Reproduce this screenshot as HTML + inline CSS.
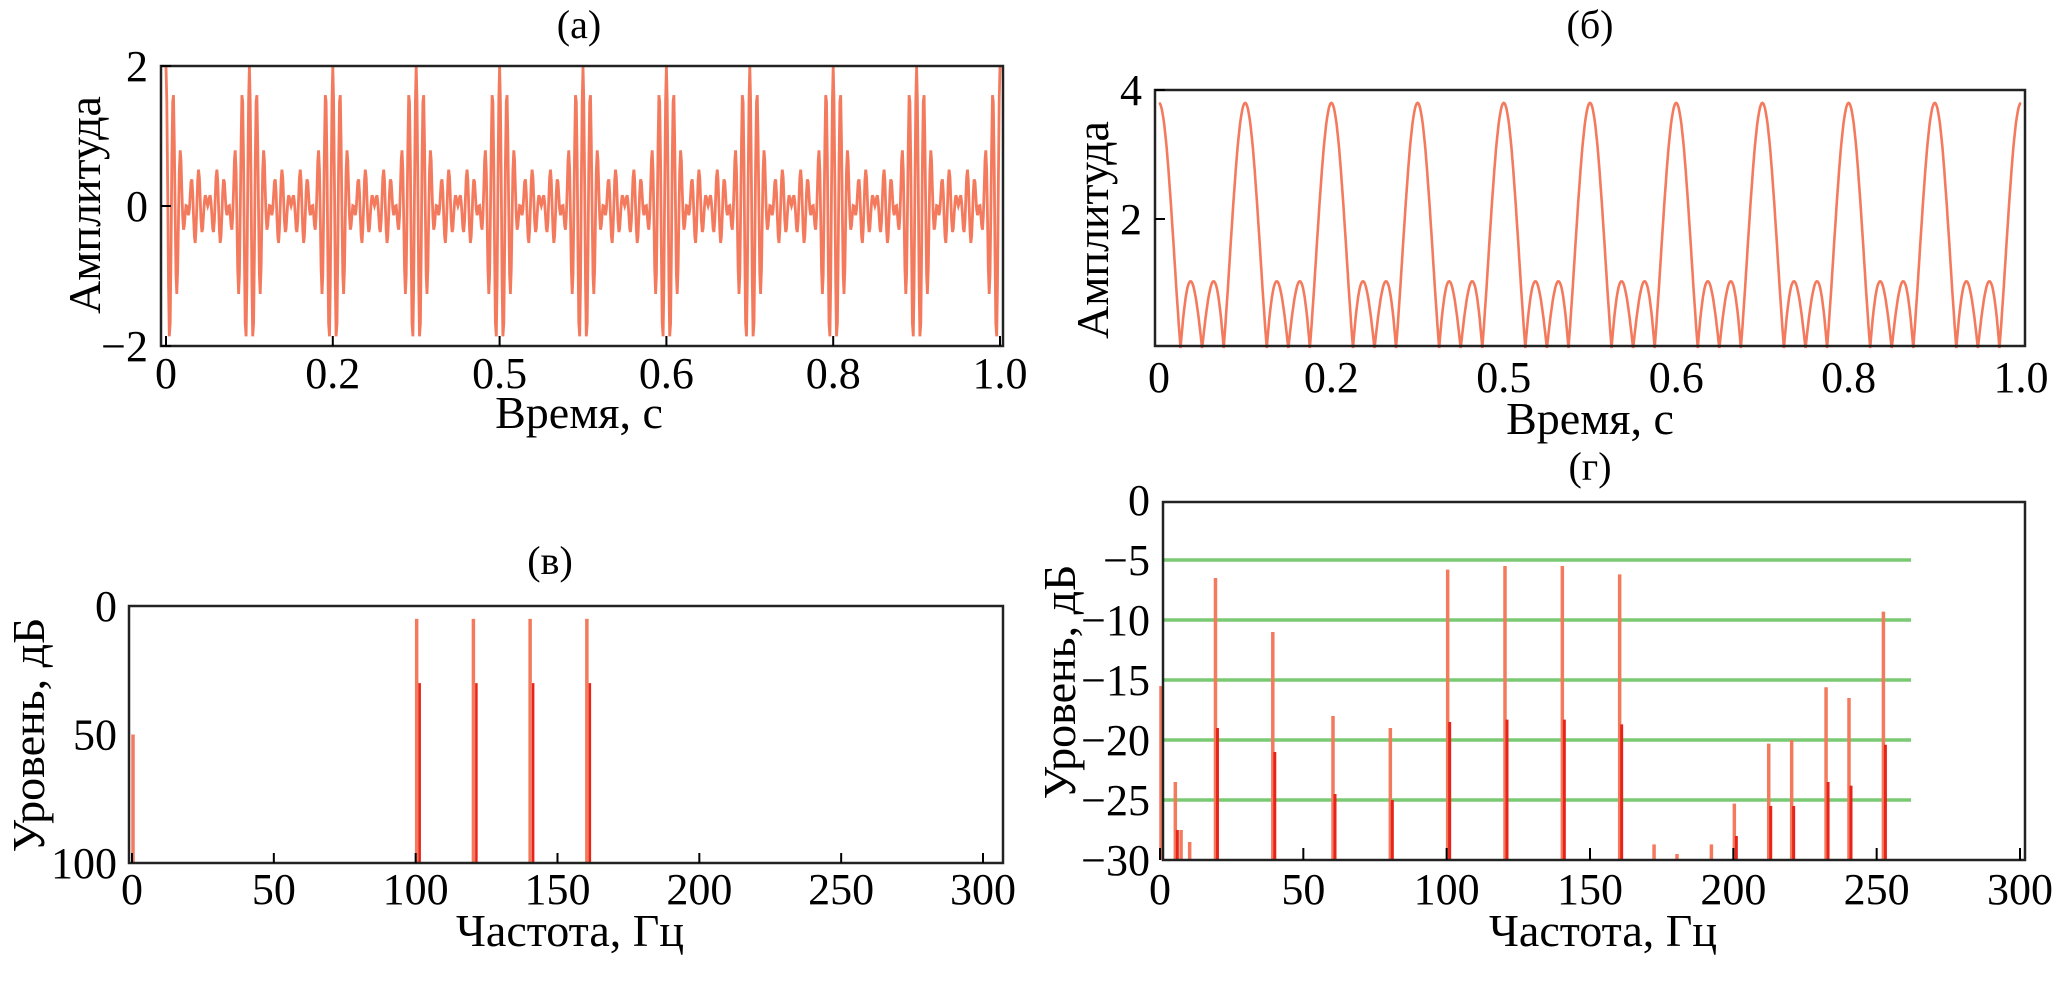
<!DOCTYPE html>
<html><head><meta charset="utf-8"><style>
html,body{margin:0;padding:0;background:#fff;}
svg{display:block;font-family:"Liberation Serif",serif;}
</style></head><body>
<svg id="s" width="2067" height="1006" viewBox="0 0 2067 1006" xmlns="http://www.w3.org/2000/svg"></svg>
<script>
// ---- data ----
const toneFreqs = [100, 110, 120, 130];
const toneAmpsA = [0.5, 0.5, 0.5, 0.5];
const toneAmpsB = [0.95, 0.95, 0.95, 0.95];
const timeTicks = [0, 0.2, 0.4, 0.6, 0.8, 1.0];
const timeTickLabels = ["0", "0.2", "0.5", "0.6", "0.8", "1.0"];
const ampTicksA = [2, 0, -2];
const ampTicksB = [4, 2];
const specFreqsV = [0, 100, 120, 140, 160];
const specLevelsV = [50, 5, 5, 5, 5];
const specSecondV = [100, 30, 30, 30, 30];
const levelTicksV = [0, 50, 100];
const freqTicks = [0, 50, 100, 150, 200, 250, 300];
const specFreqsG = [0, 5, 7, 10, 19, 39, 60, 80, 100, 120, 140, 160, 172, 180, 192, 200, 212, 220, 232, 240, 252];
const specLevelsG = [-15.5, -23.5, -27.5, -28.5, -6.5, -11, -18, -19, -5.8, -5.5, -5.5, -6.2, -28.7, -29.5, -28.7, -25.3, -20.3, -20, -15.6, -16.5, -9.3];
const specSecondG = [-30, -27.5, -30, -30, -19, -21, -24.5, -25, -18.5, -18.3, -18.3, -18.7, -30, -30, -30, -28, -25.5, -25.5, -23.5, -23.8, -20.4];
const gridLevelsG = [-5, -10, -15, -20, -25];
const levelTicksG = [0, -5, -10, -15, -20, -25, -30];

const svg = document.getElementById('s');
const NS = 'http://www.w3.org/2000/svg';
function mk(tag, attrs, parent) {
  const e = document.createElementNS(NS, tag);
  for (const k in attrs) e.setAttribute(k, attrs[k]);
  (parent || svg).appendChild(e);
  return e;
}
function txt(x, y, s, size, anchor, rot) {
  const t = mk('text', {x: x, y: y, 'font-size': size, 'text-anchor': anchor || 'middle', fill: '#000'});
  if (rot) t.setAttribute('transform', 'rotate(-90 ' + x + ' ' + y + ')');
  t.textContent = s;
  return t;
}
function lin(d0, d1, r0, r1) { return v => r0 + (v - d0) * (r1 - r0) / (d1 - d0); }
const LINE = '#f47a5e', DARK = '#e8231a';
const TF = 44, AF = 46;

function frame(x0, y0, x1, y1, name) {
  const r = mk('rect', {x: x0, y: y0, width: x1 - x0, height: y1 - y0, fill: 'none', stroke: '#222', 'stroke-width': 2.5});
  
  
}

// ---- Panel (a) ----
{
  const X0 = 161, X1 = 1003, Y0 = 66, Y1 = 346;
  const xs = lin(0, 1, 166, 1000), ys = lin(-2, 2, Y1, Y0);
  let t = txt(579, 38, '(a)', 40);  
  let pts = [];
  for (let i = 0; i <= 1000; i++) {
    const tt = i / 1000; let v = 0;
    for (let k = 0; k < toneFreqs.length; k++) v += toneAmpsA[k] * Math.cos(2 * Math.PI * toneFreqs[k] * tt);
    pts.push(xs(tt).toFixed(1) + ',' + ys(Math.max(-2, Math.min(2, v))).toFixed(1));
  }
  const p = mk('polyline', {points: pts.join(' '), fill: 'none', stroke: LINE, 'stroke-width': 2.8});
   
  frame(X0, Y0, X1, Y1, 'plot-frame-a');
  ampTicksA.forEach(v => { const l = txt(148, ys(v) + 15, v < 0 ? '\u22122' : String(v), TF, 'end');   mk('line', {x1: X0, x2: X0 + 10, y1: ys(v), y2: ys(v), stroke: '#000', 'stroke-width': 2}); });
  timeTicks.forEach((v, i) => { const l = txt(xs(v), 388, timeTickLabels[i], TF);   mk('line', {x1: xs(v), x2: xs(v), y1: Y1, y2: Y1 - 10, stroke: '#000', 'stroke-width': 2}); });
  t = txt(579, 428, 'Время, с', AF);  
  t = txt(100, 205, 'Амплитуда', AF, 'middle', true);  
}

// ---- Panel (б) ----
{
  const X0 = 1155, X1 = 2025, Y0 = 90, Y1 = 346;
  const xs = lin(0, 1, 1159, 2021), ys = lin(0, 4, 348, 90);
  let t = txt(1590, 38, '(б)', 40);  
  let pts = [];
  for (let i = 0; i <= 1000; i++) {
    const tt = i / 1000; let re = 0, im = 0;
    for (let k = 0; k < toneFreqs.length; k++) { const ph = 2 * Math.PI * toneFreqs[k] * tt; re += toneAmpsB[k] * Math.cos(ph); im += toneAmpsB[k] * Math.sin(ph); }
    const v = Math.min(4, Math.sqrt(re * re + im * im));
    pts.push(xs(tt).toFixed(1) + ',' + ys(v).toFixed(1));
  }
  const p = mk('polyline', {points: pts.join(' '), fill: 'none', stroke: LINE, 'stroke-width': 2.6});
   
  frame(X0, Y0, X1, Y1, 'plot-frame-b');
  ampTicksB.forEach(v => { const l = txt(1142, ys(v) + 15, String(v), TF, 'end');   mk('line', {x1: X0, x2: X0 + 10, y1: ys(v), y2: ys(v), stroke: '#000', 'stroke-width': 2}); });
  timeTicks.forEach((v, i) => { const l = txt(xs(v), 392, timeTickLabels[i], TF);   });
  t = txt(1590, 434, 'Время, с', AF);  
  t = txt(1108, 230, 'Амплитуда', AF, 'middle', true);  
}

// ---- Panel (в) ----
{
  const X0 = 129, X1 = 1003, Y0 = 606, Y1 = 863;
  const xs = lin(0, 300, 132, 983), ys = lin(0, 100, Y0, Y1);
  let t = txt(550, 574, '(в)', 40);  
  specFreqsV.forEach((f, i) => {
    const b = mk('line', {x1: xs(f) + 1, x2: xs(f) + 1, y1: ys(specLevelsV[i]), y2: Y1, stroke: LINE, 'stroke-width': 3.5});
     
    const b2 = mk('line', {x1: xs(f) + 4, x2: xs(f) + 4, y1: ys(specSecondV[i]), y2: Y1, stroke: DARK, 'stroke-width': 2.5});
     
  });
  frame(X0, Y0, X1, Y1, 'plot-frame-v');
  levelTicksV.forEach(v => { const l = txt(117, ys(v) + 15, String(v), TF, 'end');   });
  freqTicks.forEach(v => { const l = txt(xs(v), 904, String(v), TF);   mk('line', {x1: xs(v), x2: xs(v), y1: Y1, y2: Y1 - 10, stroke: '#000', 'stroke-width': 2}); });
  t = txt(570, 946, 'Частота, Гц', AF);  
  t = txt(44, 735, 'Уровень, дБ', AF, 'middle', true);  
}

// ---- Panel (г) ----
{
  const X0 = 1163, X1 = 2025, Y0 = 502, Y1 = 860;
  const xs = lin(0, 300, 1160, 2020), ys = lin(0, -30, 500, 860);
  let t = txt(1590, 480, '(г)', 40);  
  gridLevelsG.forEach(v => {
    const g = mk('line', {x1: X0, x2: xs(262), y1: ys(v), y2: ys(v), stroke: '#6cc464', 'stroke-width': 3.5, opacity: 0.9});
     
  });
  specFreqsG.forEach((f, i) => {
    const b = mk('line', {x1: xs(f) + 1, x2: xs(f) + 1, y1: ys(specLevelsG[i]), y2: Y1, stroke: LINE, 'stroke-width': 3.5});
     
    const b2 = mk('line', {x1: xs(f) + 3, x2: xs(f) + 3, y1: ys(specSecondG[i]), y2: Y1, stroke: DARK, 'stroke-width': 3});
     
  });
  frame(X0, Y0, X1, Y1, 'plot-frame-g');
  levelTicksG.forEach(v => { const l = txt(1150, ys(v) + 15, v < 0 ? '\u2212' + (-v) : String(v), TF, 'end');   });
  freqTicks.forEach(v => { const l = txt(xs(v), 904, String(v), TF);   mk('line', {x1: xs(v), x2: xs(v), y1: Y1, y2: Y1 - 12, stroke: '#000', 'stroke-width': 2}); });
  t = txt(1603, 946, 'Частота, Гц', AF);  
  t = txt(1075, 682, 'Уровень, дБ', AF, 'middle', true);  
}
</script>
</body></html>
